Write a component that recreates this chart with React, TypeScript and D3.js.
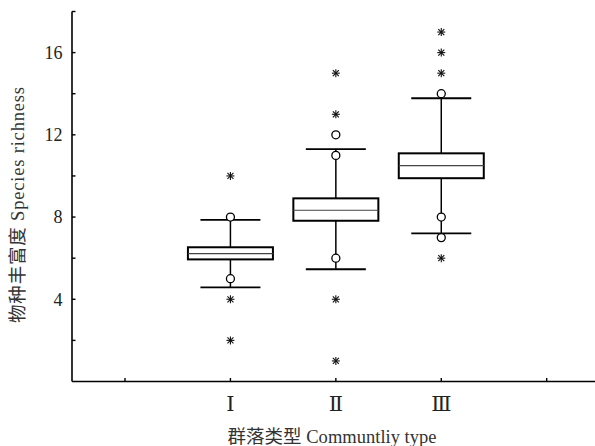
import React from "react";
import * as d3 from "d3";

const categories = ["Ⅰ", "Ⅱ", "Ⅲ"];
const q1 = [5.94, 7.82, 9.89];
const median = [6.22, 8.33, 10.5];
const q3 = [6.53, 8.91, 11.1];
const whiskerLow = [4.58, 5.46, 7.21];
const whiskerHigh = [7.86, 11.3, 13.78];
const circleOutliers = [[8, 5], [12, 11, 6], [14, 8, 7]];
const starOutliers = [[10, 4, 2], [15, 13, 4, 1], [17, 16, 15, 6]];
const yTicks = [2, 4, 6, 8, 10, 12, 14, 16, 18];
const yLabels = [4, 8, 12, 16];
const xTicks = [0, 1, 2, 3, 4];
const yTitle = "物种丰富度 Species richness";
const xTitle = "群落类型 Communtliy type";

const W = 595;
const H = 446;
const serif = "'Liberation Serif', 'Times New Roman', 'DejaVu Serif', serif";
const titleFont = "'Liberation Serif', 'Noto Sans CJK SC', serif";

export default function App() {
  const x = d3.scaleLinear().domain([0, 4]).range([125, 546.7]);
  const y = d3.scaleLinear().domain([0, 18]).range([381.5, 11.5]);
  const axisX = 72;
  const boxW = 85;
  const capW = 60;
  const s = 4;

  return (
    <svg width={W} height={H} style={{ position: "absolute", left: 0, top: 0, background: "#fff" }}>
      <line x1={axisX} x2={axisX} y1={y(18)} y2={y(0)} stroke="#000" strokeWidth={1.6} />
      <line x1={axisX} x2={W} y1={y(0)} y2={y(0)} stroke="#000" strokeWidth={1.6} />
      {yTicks.map((t) => (
        <line key={"yt" + t} x1={axisX} x2={axisX + 3.5} y1={y(t)} y2={y(t)} stroke="#000" strokeWidth={1.4} />
      ))}
      {yLabels.map((t) => (
        <text key={"yl" + t} x={62.5} y={y(t)} dy="0.35em" textAnchor="end" fontFamily={serif} fontSize={18} fill="#222">
          {t}
        </text>
      ))}
      {xTicks.map((t) => (
        <line key={"xt" + t} x1={x(t)} x2={x(t)} y1={y(0)} y2={y(0) - 3.5} stroke="#000" strokeWidth={1.4} />
      ))}
      {categories.map((c, i) => (
        <text key={"xl" + i} x={x(i + 1)} y={404} dy="0.35em" textAnchor="middle" fontFamily={serif} fontSize={21} fill="#222">
          {c}
        </text>
      ))}
      <text
        transform={`translate(18,205) rotate(-90)`}
        textAnchor="middle"
        dy="0.35em"
        fontFamily={titleFont}
        fontSize={18.5}
        fill="#333"
        textLength={236}
        lengthAdjust="spacing"
      >
        {yTitle}
      </text>
      <text x={332} y={437} dy="0.35em" textAnchor="middle" fontFamily={titleFont} fontSize={18.5} fill="#333" textLength={209} lengthAdjust="spacing">
        {xTitle}
      </text>

      {categories.map((c, i) => {
        const cx = x(i + 1);
        return (
          <g key={"b" + i}>
            <line x1={cx} x2={cx} y1={y(whiskerHigh[i])} y2={y(q3[i])} stroke="#000" strokeWidth={1.5} />
            <line x1={cx} x2={cx} y1={y(q1[i])} y2={y(whiskerLow[i])} stroke="#000" strokeWidth={1.5} />
            <line x1={cx - capW / 2} x2={cx + capW / 2} y1={y(whiskerHigh[i])} y2={y(whiskerHigh[i])} stroke="#000" strokeWidth={1.8} />
            <line x1={cx - capW / 2} x2={cx + capW / 2} y1={y(whiskerLow[i])} y2={y(whiskerLow[i])} stroke="#000" strokeWidth={1.8} />
            <rect x={cx - boxW / 2} y={y(q3[i])} width={boxW} height={y(q1[i]) - y(q3[i])} fill="#fff" stroke="#000" strokeWidth={2} />
            <line x1={cx - boxW / 2} x2={cx + boxW / 2} y1={y(median[i])} y2={y(median[i])} stroke="#444" strokeWidth={1.2} />
            {circleOutliers[i].map((v, k) => (
              <circle key={"c" + k} cx={cx} cy={y(v)} r={4} fill="#fff" stroke="#000" strokeWidth={1.3} />
            ))}
            {starOutliers[i].map((v, k) => {
              const cy = y(v);
              return (
                <g key={"s" + k} stroke="#111" strokeWidth={1.1}>
                  <line x1={cx - s} x2={cx + s} y1={cy} y2={cy} />
                  <line x1={cx} x2={cx} y1={cy - s} y2={cy + s} />
                  <line x1={cx - s * 0.75} x2={cx + s * 0.75} y1={cy - s * 0.75} y2={cy + s * 0.75} />
                  <line x1={cx - s * 0.75} x2={cx + s * 0.75} y1={cy + s * 0.75} y2={cy - s * 0.75} />
                </g>
              );
            })}
          </g>
        );
      })}
    </svg>
  );
}
